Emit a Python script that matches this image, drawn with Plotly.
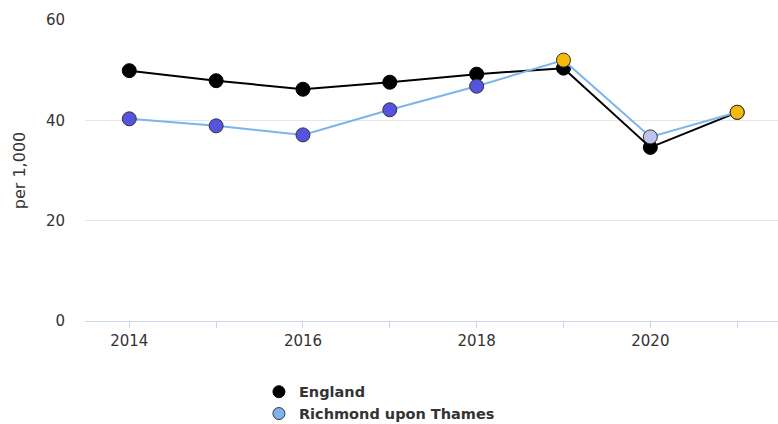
import plotly.graph_objects as go

years = [2014, 2015, 2016, 2017, 2018, 2019, 2020, 2021]
england = [49.9, 47.9, 46.2, 47.6, 49.2, 50.4, 34.6, 41.6]
richmond = [40.3, 38.9, 37.1, 42.1, 46.8, 52.0, 36.7, 41.6]
richmond_compare = ["lower", "lower", "lower", "lower", "lower", "similar", "higher", "similar"]
y_ticks = [0, 20, 40, 60]
x_ticks = [2014, 2016, 2018, 2020]

compare_colors = {"lower": "#5454e0", "similar": "#f5b90a", "higher": "#bcc4f2"}
font = "DejaVu Sans, sans-serif"

fig = go.Figure()
fig.add_trace(go.Scatter(
    x=years, y=england, mode="lines+markers", name="England", showlegend=False,
    line=dict(color="#000000", width=2),
    marker=dict(color="#000000", size=14, line=dict(color="#000000", width=1)),
))
fig.add_trace(go.Scatter(
    x=years, y=richmond, mode="lines+markers", name="Richmond upon Thames", showlegend=False,
    line=dict(color="#7cb5ec", width=2),
    marker=dict(color=[compare_colors[c] for c in richmond_compare], size=14,
                line=dict(color="#333333", width=1)),
))
# legend entries
fig.add_trace(go.Scatter(
    x=[None], y=[None], mode="markers", name="England",
    marker=dict(color="#000000", size=12, line=dict(color="#000000", width=1)),
))
fig.add_trace(go.Scatter(
    x=[None], y=[None], mode="markers", name="Richmond upon Thames",
    marker=dict(color="#7cb5ec", size=12, line=dict(color="#333333", width=1)),
))

fig.update_layout(
    width=778, height=424,
    margin=dict(l=85, r=0, t=20, b=103, autoexpand=False),
    plot_bgcolor="white", paper_bgcolor="white",
    font=dict(family=font, size=15, color="#333333"),
    showlegend=True,
    legend=dict(
        orientation="v", x=0.251, y=-0.182, xanchor="left", yanchor="top",
        font=dict(size=14.5, color="#333333", weight="bold"),
        tracegroupgap=0, itemwidth=30,
    ),
    xaxis=dict(
        range=[2013.49, 2021.47], tickmode="array", tickvals=x_ticks,
        ticktext=[str(t) for t in x_ticks],
        showgrid=False, zeroline=False,
        showline=True, linecolor="#ccd6eb", linewidth=1,
        ticks="outside", ticklen=6, tickcolor="#ccd6eb",
        minor=dict(ticks="outside", ticklen=6, tickcolor="#ccd6eb", dtick=1, tick0=2014),
        tickfont=dict(size=15, color="#333333"),
    ),
    yaxis=dict(
        range=[0, 60], tickmode="array", tickvals=y_ticks,
        showgrid=True, gridcolor="#e6e6e6", gridwidth=1, zeroline=False,
        showline=False, automargin=False,
        ticklabelstandoff=19,
        tickfont=dict(size=15, color="#333333"),
        title=dict(text="per 1,000", font=dict(size=16, color="#333333"), standoff=16),
    ),
)

fig.write_html("out.html", config={"displayModeBar": False},
               post_script="document.body.style.margin='0';")
